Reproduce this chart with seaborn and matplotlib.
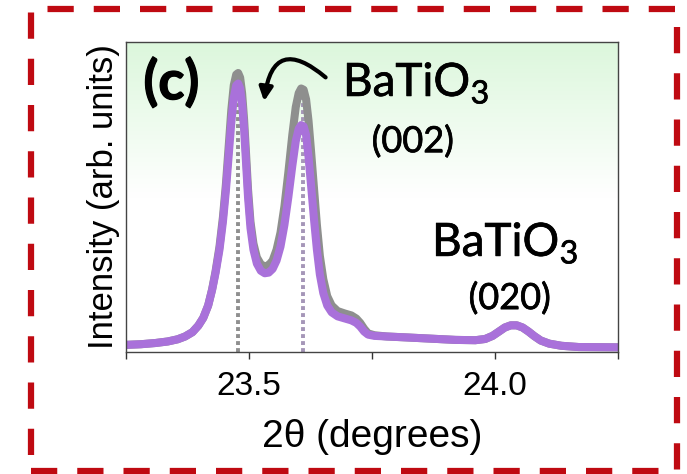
import numpy as np
import pandas as pd
import matplotlib as mpl
import matplotlib.pyplot as plt
import matplotlib.patheffects as pe
from matplotlib.colors import LinearSegmentedColormap
from matplotlib.patches import Rectangle, FancyArrowPatch
import seaborn as sns

# 2theta positions (degrees)
two_theta = [23.250, 23.280, 23.310, 23.335, 23.355, 23.370, 23.385, 23.397, 23.407, 23.417,
             23.425, 23.432, 23.440, 23.447, 23.453, 23.459, 23.464, 23.469, 23.474, 23.478,
             23.482, 23.486, 23.490, 23.494, 23.498, 23.503, 23.509, 23.516, 23.524, 23.532,
             23.540, 23.548, 23.556, 23.564, 23.572, 23.580, 23.588, 23.595, 23.601, 23.606,
             23.611, 23.616, 23.621, 23.626, 23.632, 23.638, 23.644, 23.651, 23.659, 23.668,
             23.680, 23.695, 23.708, 23.718, 23.726, 23.734, 23.742, 23.755, 23.780, 23.820,
             23.870, 23.920, 23.960, 23.980, 23.995, 24.008, 24.020, 24.032, 24.044, 24.056,
             24.068, 24.080, 24.093, 24.110, 24.135, 24.170, 24.250]

# normalised intensity, gray trace (drawn underneath)
gray_int = [0.023, 0.025, 0.029, 0.034, 0.041, 0.050, 0.064, 0.085, 0.110, 0.150,
            0.202, 0.260, 0.340, 0.435, 0.540, 0.670, 0.780, 0.860, 0.895, 0.900,
            0.885, 0.835, 0.750, 0.640, 0.525, 0.420, 0.350, 0.305, 0.283, 0.276,
            0.280, 0.295, 0.330, 0.385, 0.470, 0.580, 0.700, 0.790, 0.835, 0.850,
            0.846, 0.815, 0.745, 0.650, 0.530, 0.410, 0.310, 0.235, 0.180, 0.150,
            0.132, 0.124, 0.118, 0.108, 0.094, 0.075, 0.060, 0.054, 0.050, 0.047,
            0.043, 0.039, 0.038, 0.042, 0.052, 0.066, 0.079, 0.086, 0.086, 0.079,
            0.066, 0.051, 0.037, 0.027, 0.020, 0.016, 0.015]

# normalised intensity, purple trace (on top)
purple_int = [0.023, 0.025, 0.029, 0.034, 0.041, 0.050, 0.064, 0.085, 0.110, 0.150,
              0.200, 0.255, 0.330, 0.420, 0.520, 0.640, 0.740, 0.820, 0.860, 0.866,
              0.850, 0.800, 0.720, 0.610, 0.500, 0.400, 0.330, 0.285, 0.262, 0.254,
              0.256, 0.268, 0.295, 0.340, 0.410, 0.500, 0.600, 0.680, 0.720, 0.732,
              0.728, 0.700, 0.630, 0.540, 0.430, 0.330, 0.250, 0.190, 0.150, 0.128,
              0.115, 0.108, 0.102, 0.094, 0.082, 0.066, 0.056, 0.052, 0.050, 0.047,
              0.043, 0.039, 0.038, 0.042, 0.052, 0.066, 0.079, 0.086, 0.086, 0.079,
              0.066, 0.051, 0.037, 0.027, 0.020, 0.016, 0.015]

# reference peak positions (dotted markers)
peak_pos = [23.478, 23.610]
peak_top = [0.86, 0.83]
peak_col = ['#8f8f8f', '#a596b8']

xticks = [23.25, 23.5, 23.75, 24.0, 24.25]
xticklabels = ['', '23.5', '', '24.0', '']

sns.set_theme(style='white')
plt.rcParams['font.family'] = ['Liberation Sans', 'DejaVu Sans']
plt.rcParams['mathtext.fontset'] = 'custom'
plt.rcParams['mathtext.rm'] = 'Lato'
plt.rcParams['text.color'] = 'black'
plt.rcParams['axes.labelcolor'] = 'black'
plt.rcParams['xtick.color'] = 'black'

fig = plt.figure(figsize=(6.87, 4.74), dpi=100)
ax = fig.add_axes([0.1834, 0.2574, 0.7162, 0.654])

# light green wash at the top of the plot area
cmap = LinearSegmentedColormap.from_list('wash', ['#ffffff', '#ffffff', '#dcf7dc'])
grad = np.linspace(0, 1, 256).reshape(-1, 1)
ax.imshow(grad, cmap=cmap, aspect='auto', origin='lower', extent=[0, 1, 0, 1],
          transform=ax.transAxes, zorder=0)

for xp, yt, c in zip(peak_pos, peak_top, peak_col):
    ax.plot([xp, xp], [0.0, yt], ls=(0, (1, 0.8)), lw=2.8, color=c, zorder=1)

df = pd.DataFrame({
    'two_theta': two_theta * 2,
    'intensity': gray_int + purple_int,
    'sample': ['gray'] * len(two_theta) + ['purple'] * len(two_theta),
})
sns.lineplot(data=df, x='two_theta', y='intensity', hue='sample',
             hue_order=['gray', 'purple'],
             palette={'gray': '#8e8f8e', 'purple': '#a971da'},
             linewidth=5.8, legend=False, ax=ax, zorder=2,
             solid_joinstyle='round', solid_capstyle='butt')

ax.set_xlim(23.25, 24.25)
ax.set_ylim(0, 1)
ax.set_xticks(xticks)
ax.set_xticklabels(xticklabels)
ax.set_yticks([])
ax.tick_params(axis='x', direction='out', length=5, width=1, color='#333333',
               labelsize=24, pad=9, bottom=True)
for s in ax.spines.values():
    s.set_color('#444444')
    s.set_linewidth(1.0)

ax.set_xlabel('2\u03b8 (degrees)', fontsize=28, labelpad=12)
ax.set_ylabel('Intensity (arb. units)', fontsize=25, labelpad=4)

# a thin stroke makes Lato look closer to the heavier original lettering
heavy = [pe.withStroke(linewidth=0.9, foreground='black')]
medium = [pe.withStroke(linewidth=0.5, foreground='black')]

ax.text(23.342, 0.868, '(c)', fontsize=39, fontweight='bold', family='Lato',
        ha='center', va='center', zorder=5, path_effects=heavy)
ax.text(23.691, 0.826, r'BaTiO$_3$', fontsize=33, family='Lato',
        ha='left', va='baseline', zorder=5, path_effects=medium)
ax.text(23.833, 0.68, '(002)', fontsize=26, family='Lato',
        ha='center', va='center', zorder=5, path_effects=medium)
ax.text(23.872, 0.31, r'BaTiO$_3$', fontsize=33, family='Lato',
        ha='left', va='baseline', zorder=5, path_effects=medium)
ax.text(24.030, 0.174, '(020)', fontsize=26, family='Lato',
        ha='center', va='center', zorder=5, path_effects=medium)

arrow = FancyArrowPatch((23.660, 0.880), (23.530, 0.800),
                        connectionstyle='arc3,rad=0.95', arrowstyle='-|>',
                        mutation_scale=20, lw=3, color='black', zorder=6)
ax.add_patch(arrow)

# dashed red frame around the panel
frame = Rectangle((0.0451, 0.0063), 0.9403, 0.9747, transform=fig.transFigure,
                  fill=False, edgecolor='#bf0a12', linewidth=4.5,
                  linestyle=(0, (4.2, 3.2)), clip_on=False)
fig.patches.append(frame)

fig.savefig('out.png', dpi=100)
